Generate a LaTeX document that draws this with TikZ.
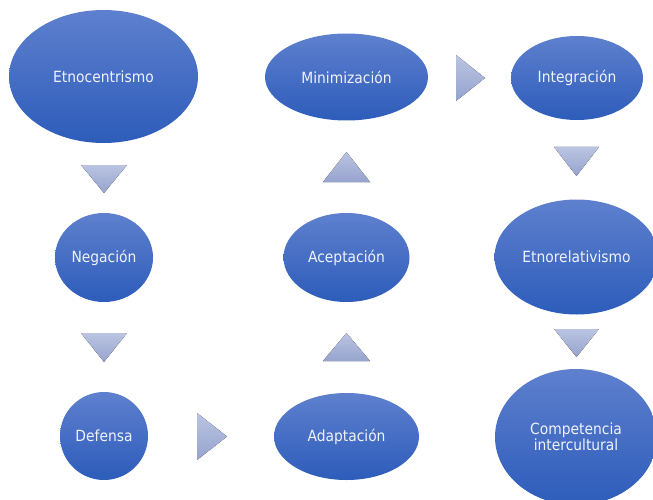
\documentclass[tikz,border=0pt]{standalone}
\usepackage{fontspec}
\setmainfont{DejaVu Sans}[FakeStretch=0.9]
\usetikzlibrary{shapes.geometric}
\definecolor{elltop}{RGB}{94,128,206}
\definecolor{ellbot}{RGB}{45,92,186}
\definecolor{tritop}{RGB}{186,196,226}
\definecolor{tribot}{RGB}{150,163,205}
\definecolor{txt}{RGB}{240,242,250}
\begin{document}
\begin{tikzpicture}[x=1pt,y=-1pt,
  stage/.style={ellipse, inner sep=0pt, top color=elltop, bottom color=ellbot,
    text=txt, font=\fontsize{15.4}{16.5}\selectfont, align=center},
  arrowtri/.style={top color=tritop, bottom color=tribot, draw=none}]
\useasboundingbox (0,0) rectangle (653,500);

% stages
\node[stage, minimum width=189, minimum height=133] (etno) at (103.5,76.5) {Etnocentrismo};
\node[stage, minimum width=98,  minimum height=89]  (neg)  at (104,257.5) {Negación};
\node[stage, minimum width=88,  minimum height=88]  (def)  at (104,436) {Defensa};
\node[stage, minimum width=145, minimum height=87]  (adap) at (346.5,436.5) {Adaptación};
\node[stage, minimum width=126, minimum height=89]  (acep) at (346.5,257.5) {Aceptación};
\node[stage, minimum width=163, minimum height=87]  (mini) at (346.5,77) {Minimización};
\node[stage, minimum width=132, minimum height=84]  (integ) at (577,78) {Integración};
\node[stage, minimum width=164, minimum height=115] (etnorel) at (576.5,257) {Etnorelativismo};
\node[stage, minimum width=162, minimum height=136] (comp) at (576,437) {Competencia\\intercultural};

% direction markers
\fill[arrowtri] (81,165) -- (127,165) -- (104,193) -- cycle;
\fill[arrowtri] (81,333) -- (127,333) -- (104,362) -- cycle;
\fill[arrowtri] (197,413) -- (227,436.5) -- (197,460) -- cycle;
\fill[arrowtri] (323,361) -- (370,361) -- (346.5,333) -- cycle;
\fill[arrowtri] (323,182) -- (370,182) -- (346.5,152) -- cycle;
\fill[arrowtri] (456,55) -- (485,78) -- (456,101) -- cycle;
\fill[arrowtri] (554,147) -- (599,147) -- (576.5,176) -- cycle;
\fill[arrowtri] (554,329) -- (599,329) -- (576.5,357) -- cycle;
\end{tikzpicture}
\end{document}
